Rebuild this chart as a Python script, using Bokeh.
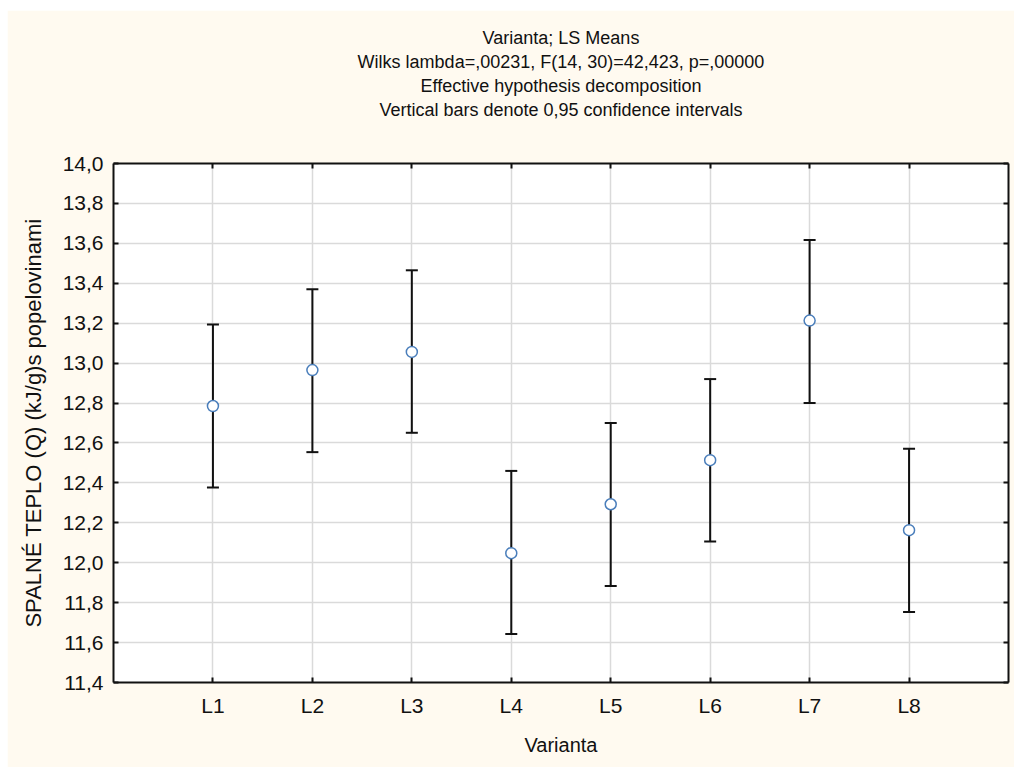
from bokeh.plotting import figure
from bokeh.models import (ColumnDataSource, Whisker, TeeHead, Range1d, LinearAxis,
                          FixedTicker, CustomJSTickFormatter, Title)
from bokeh.embed import file_html
from bokeh.resources import INLINE

# ---- data ----
categories = ["L1", "L2", "L3", "L4", "L5", "L6", "L7", "L8"]
means = [12.785, 12.965, 13.056, 12.048, 12.293, 12.514, 13.213, 12.163]
lower = [12.377, 12.554, 12.651, 11.643, 11.884, 12.106, 12.800, 11.753]
upper = [13.194, 13.370, 13.465, 12.460, 12.700, 12.920, 13.617, 12.571]
y_ticks = [11.4, 11.6, 11.8, 12.0, 12.2, 12.4, 12.6, 12.8, 13.0, 13.2, 13.4, 13.6, 13.8, 14.0]
y_tick_labels = ["11,4", "11,6", "11,8", "12,0", "12,2", "12,4", "12,6", "12,8",
                 "13,0", "13,2", "13,4", "13,6", "13,8", "14,0"]
title_lines = ["Varianta; LS Means",
               "Wilks lambda=,00231, F(14, 30)=42,423, p=,00000",
               "Effective hypothesis decomposition",
               "Vertical bars denote 0,95 confidence intervals"]
x_label = "Varianta"
y_label = "SPALNÉ TEPLO (Q) (kJ/g)s popelovinami"

x_pos = list(range(1, len(categories) + 1))
src = ColumnDataSource(dict(x=x_pos, mean=means, lower=lower, upper=upper))

FONT = "Liberation Sans"
CREAM = "#FFFAF0"
INK = "#111111"

p = figure(width=1007, height=757, output_backend="svg", toolbar_location=None,
           x_range=Range1d(0, len(categories) + 1), y_range=Range1d(y_ticks[0], y_ticks[-1]),
           min_border_left=106, min_border_right=6, min_border_top=153, min_border_bottom=85,
           background_fill_color="white", border_fill_color=CREAM,
           outline_line_color=None, margin=(10, 0, 0, 7))
p.title.text = ""

xt = FixedTicker(ticks=x_pos)
yt = FixedTicker(ticks=y_ticks)

for ax in (p.xaxis[0], p.yaxis[0]):
    ax.major_tick_in = 5
    ax.major_tick_out = 0
    ax.minor_tick_line_color = None
    ax.axis_line_width = 2
    ax.axis_line_color = INK
    ax.major_tick_line_width = 2
    ax.major_tick_line_color = INK
    ax.major_label_text_font = FONT
    ax.major_label_text_font_size = "21px"
    ax.major_label_text_color = INK
    ax.axis_label_text_font = FONT
    ax.axis_label_text_font_size = "21px"
    ax.axis_label_text_font_style = "normal"
    ax.axis_label_text_color = INK

p.xaxis[0].ticker = xt
p.xaxis[0].major_label_overrides = {x: c for x, c in zip(x_pos, categories)}
p.xaxis[0].major_label_standoff = 11
p.xaxis[0].axis_label = x_label
p.xaxis[0].axis_label_standoff = 14
p.xaxis[0].axis_label_text_font_size = "20px"

p.yaxis[0].ticker = yt
p.yaxis[0].major_label_overrides = {v: s for v, s in zip(y_ticks, y_tick_labels)}
p.yaxis[0].major_label_standoff = 10
p.yaxis[0].axis_label = y_label
p.yaxis[0].axis_label_standoff = 14
p.yaxis[0].axis_label_text_font_size = "22px"

blank = CustomJSTickFormatter(code="return ''")
top = LinearAxis(ticker=xt, formatter=blank, major_tick_in=5, major_tick_out=0,
                 minor_tick_line_color=None, axis_line_width=2, axis_line_color=INK,
                 major_tick_line_width=2, major_tick_line_color=INK,
                 major_label_standoff=0, major_label_text_font_size="1px")
right = LinearAxis(ticker=yt, formatter=blank, major_tick_in=5, major_tick_out=0,
                   minor_tick_line_color=None, axis_line_width=2, axis_line_color=INK,
                   major_tick_line_width=2, major_tick_line_color=INK,
                   major_label_standoff=0, major_label_text_font_size="1px")
p.add_layout(top, "above")
p.add_layout(right, "right")

# spacer between frame and the title block
p.add_layout(Title(text=" ", text_font=FONT, text_font_size="18px", standoff=21), "above")
# titles: first added sits closest to the frame
for line in reversed(title_lines):
    t = Title(text=line, align="center", text_font=FONT, text_font_size="18px",
              text_font_style="normal", text_color=INK, standoff=2)
    p.add_layout(t, "above")

p.xgrid.ticker = xt
p.ygrid.ticker = yt
for g in (p.xgrid[0], p.ygrid[0]):
    g.grid_line_color = "#dadada"
    g.grid_line_width = 1.5

wh = Whisker(source=src, base="x", upper="upper", lower="lower",
             line_color=INK, line_width=2,
             upper_head=TeeHead(size=12, line_width=2, line_color=INK),
             lower_head=TeeHead(size=12, line_width=2, line_color=INK))
p.add_layout(wh)

p.scatter("x", "mean", source=src, marker="circle", size=11, fill_color="white",
          line_color="#4a7ebb", line_width=1.5)

open("out.html", "w").write(file_html(p, INLINE))
